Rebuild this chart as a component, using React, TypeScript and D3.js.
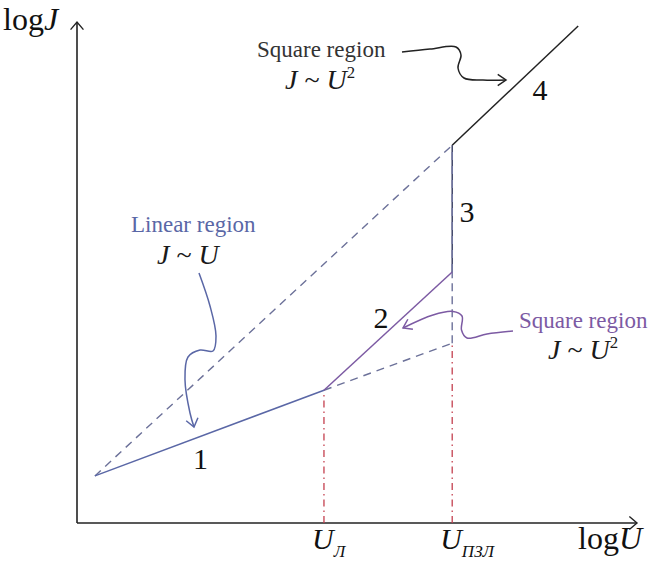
import React from "react";
import * as d3 from "d3";

// Schematic log J – log U characteristic with the trap-filled transition.
// Break-point abscissae (log U): start of curve, U_Л, U_ПЗЛ, end of curve
const breakU = [0.32, 4.41, 6.7, 8.95];
// Current (log J) at those points along the measured curve
const curveJ = [0.94, 2.65, 5.01, 7.54, 9.92]; // start, U_Л, top of 2, top of 3, end of 4
// Linear-law extension at U_ПЗЛ
const linearAtTfl = 3.59;
const segmentLabels = ["1", "2", "3", "4"];
const axisTickLabels = [
  { main: "U", sub: "Л" },
  { main: "U", sub: "ПЗЛ" },
];

const W = 648;
const H = 570;
const serif = "'Liberation Serif', 'DejaVu Serif', serif";

const x = d3.scaleLinear().domain([0, 10]).range([77, 637]);
const y = d3.scaleLinear().domain([0, 10]).range([523, 22]);
const line = d3.line<[number, number]>().x((d) => x(d[0])).y((d) => y(d[1]));
const curvy = d3.line<[number, number]>().curve(d3.curveCatmullRom.alpha(0.5));

function chevron(tip: [number, number], from: [number, number], len = 10, spread = 0.6) {
  const a = Math.atan2(tip[1] - from[1], tip[0] - from[0]);
  const p1 = [tip[0] - len * Math.cos(a - spread), tip[1] - len * Math.sin(a - spread)];
  const p2 = [tip[0] - len * Math.cos(a + spread), tip[1] - len * Math.sin(a + spread)];
  return `M${p1[0]},${p1[1]}L${tip[0]},${tip[1]}L${p2[0]},${p2[1]}`;
}

// Callout curves (screen space)
const linearCallout: [number, number][] = [
  [199, 273], [210, 306], [216, 336], [213, 351], [200, 350], [188, 357], [185, 380], [190, 413], [194, 427],
];
const topCallout: [number, number][] = [
  [402, 52], [430, 49], [456, 47], [461, 55], [458, 68], [464, 78], [483, 80], [506, 80],
];
const rightCallout: [number, number][] = [
  [513, 331], [487, 334], [467, 338], [461.5, 330], [462, 316], [453, 311.5], [433, 315], [403, 328],
];

function Law({ x0, y0, sq, size = 24 }: { x0: number; y0: number; sq: boolean; size?: number }) {
  return (
    <text x={x0} y={y0} fontFamily={serif} fontSize={size} fill="#1a1a1a">
      <tspan fontStyle="italic">J</tspan>
      <tspan> ~ </tspan>
      <tspan fontStyle="italic">U</tspan>
      {sq && (
        <tspan fontSize={size * 0.6} dy={-size * 0.38}>
          2
        </tspan>
      )}
    </text>
  );
}

export default function App() {
  const [u0, uL, uT, uEnd] = breakU;
  const [j0, jL, j2, j3, jEnd] = curveJ;
  const pStart: [number, number] = [u0, j0];
  const pL: [number, number] = [uL, jL];
  const p2: [number, number] = [uT, j2];
  const p3: [number, number] = [uT, j3];
  const pEnd: [number, number] = [uEnd, jEnd];
  const pLinT: [number, number] = [uT, linearAtTfl];

  const blue = "#5a67a6";
  const purple = "#7c5aa3";
  const dashCol = "#6c7199";
  const red = "#c4404f";
  const ink = "#222";

  const arrowYTip: [number, number] = [x(0), y(10)];
  const arrowXTip: [number, number] = [x(10), y(0)];

  const seg1Mid = [(x(u0) + x(uL)) / 2, (y(j0) + y(jL)) / 2];

  return (
    <svg
      width={W}
      height={H}
      viewBox={`0 0 ${W} ${H}`}
      style={{ position: "absolute", left: 0, top: 0, background: "#fff", display: "block" }}
    >
      {/* axes */}
      <path d={`M${x(0)},${y(0)}L${x(0)},${y(10)}`} stroke={ink} strokeWidth={1.6} fill="none" />
      <path d={`M${x(0)},${y(0)}L${x(10)},${y(0)}`} stroke={ink} strokeWidth={1.6} fill="none" />
      <path d={chevron(arrowYTip, [x(0), y(9)], 10, 0.7)} stroke={ink} strokeWidth={1.4} fill="none" />
      <path d={chevron(arrowXTip, [x(9), y(0)], 10, 0.7)} stroke={ink} strokeWidth={1.4} fill="none" />

      {/* guide lines at U_Л and U_ПЗЛ */}
      <path d={line([[uL, 0], pL])!} stroke={red} strokeWidth={1.3} strokeDasharray="7 4 1.5 4" fill="none" />
      <path d={line([[uT, 0], pLinT])!} stroke={red} strokeWidth={1.3} strokeDasharray="7 4 1.5 4" fill="none" />

      {/* extrapolated laws */}
      <path d={line([pStart, p3])!} stroke={dashCol} strokeWidth={1.4} strokeDasharray="8 6" fill="none" />
      <path d={line([pL, pLinT])!} stroke={dashCol} strokeWidth={1.4} strokeDasharray="8 6" fill="none" />
      <path d={line([pLinT, p2])!} stroke={dashCol} strokeWidth={1.4} strokeDasharray="8 5" fill="none" />

      {/* measured curve */}
      <path d={line([pStart, pL])!} stroke={blue} strokeWidth={1.5} fill="none" />
      <path d={line([pL, p2])!} stroke={purple} strokeWidth={1.5} fill="none" />
      <path d={line([p2, p3])!} stroke="#33385e" strokeWidth={1.4} fill="none" />
      <path d={line([p2, p3])!} stroke="#7479a3" strokeWidth={1.4} strokeDasharray="8 6" fill="none" />
      <path d={line([p3, pEnd])!} stroke={ink} strokeWidth={1.5} fill="none" />

      {/* segment numbers */}
      <g fontFamily={serif} fontSize={30} fill="#111" textAnchor="middle">
        <text x={seg1Mid[0] - 9} y={469}>{segmentLabels[0]}</text>
        <text x={381} y={328}>{segmentLabels[1]}</text>
        <text x={467} y={222}>{segmentLabels[2]}</text>
        <text x={540} y={100}>{segmentLabels[3]}</text>
      </g>

      {/* axis titles */}
      <text x={3} y={30} fontFamily={serif} fontSize={32} fill="#111">
        log<tspan fontStyle="italic">J</tspan>
      </text>
      <text x={578} y={549} fontFamily={serif} fontSize={32} fill="#111">
        log<tspan fontStyle="italic">U</tspan>
      </text>

      {/* break-point labels */}
      {[uL, uT].map((u, i) => (
        <text key={i} x={x(u) - 12} y={549} fontFamily={serif} fontSize={30} fill="#111">
          <tspan fontStyle="italic">{axisTickLabels[i].main}</tspan>
          <tspan fontStyle="italic" fontSize={17} dy={8}>
            {axisTickLabels[i].sub}
          </tspan>
        </text>
      ))}

      {/* annotation: linear region */}
      <text x={131} y={232} fontFamily={serif} fontSize={23} fill={blue}>
        Linear region
      </text>
      <Law x0={157} y0={264} sq={false} size={28} />
      <path d={curvy(linearCallout)!} stroke={blue} strokeWidth={1.5} fill="none" />
      <path d={chevron([194, 427], [191, 415], 10, 0.65)} stroke={blue} strokeWidth={1.5} fill="none" />

      {/* annotation: square region (upper) */}
      <text x={257} y={57} fontFamily={serif} fontSize={23} fill="#333">
        Square region
      </text>
      <Law x0={285} y0={89} sq size={28} />
      <path d={curvy(topCallout)!} stroke={ink} strokeWidth={1.5} fill="none" />
      <path d={chevron([506, 80], [494, 80], 10, 0.6)} stroke={ink} strokeWidth={1.5} fill="none" />

      {/* annotation: square region (trap filling) */}
      <text x={519} y={328} fontFamily={serif} fontSize={23} fill={purple}>
        Square region
      </text>
      <Law x0={548} y0={359} sq size={28} />
      <path d={curvy(rightCallout)!} stroke={purple} strokeWidth={1.5} fill="none" />
      <path d={chevron([403, 328], [415, 322], 10, 0.6)} stroke={purple} strokeWidth={1.5} fill="none" />
    </svg>
  );
}
